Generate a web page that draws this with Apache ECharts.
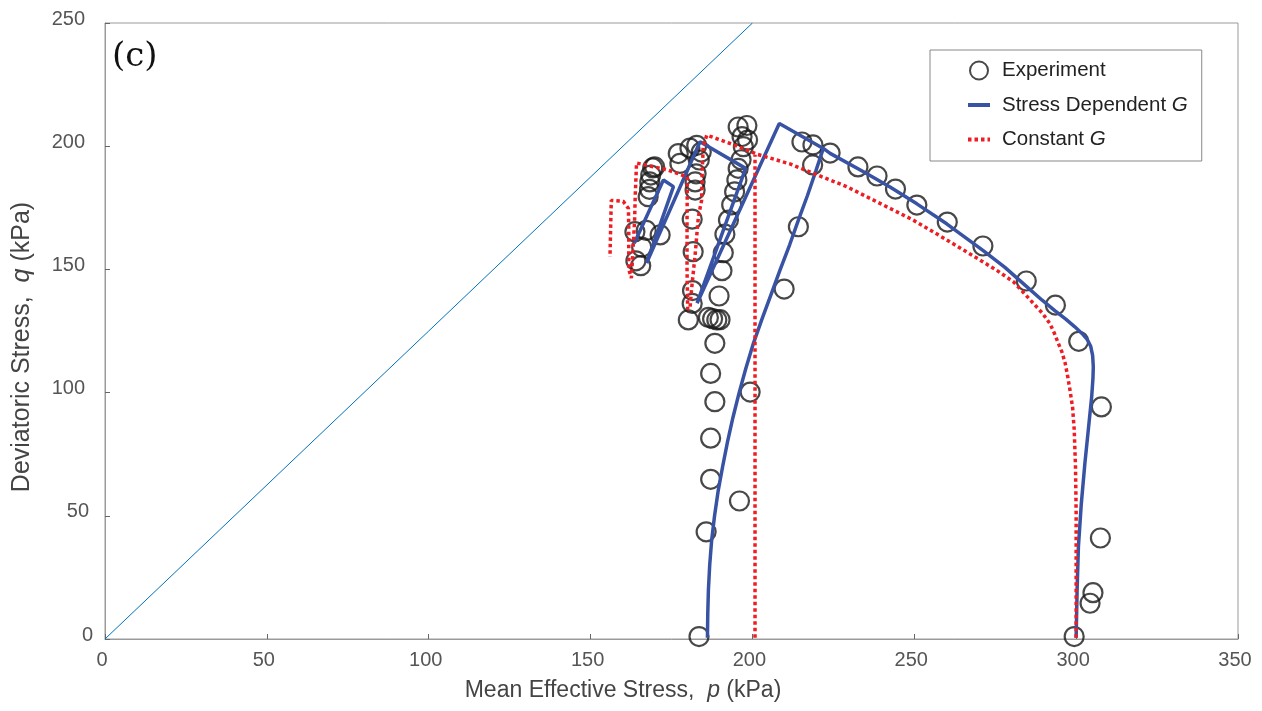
<!DOCTYPE html>
<html>
<head>
<meta charset="utf-8">
<script src="https://cdn.jsdelivr.net/npm/echarts@6/dist/echarts.min.js"></script>
<style>
html,body{margin:0;padding:0;background:#fff;}
#chart{width:1262px;height:711px;}
</style>
</head>
<body>
<div id="chart"></div>
<script>
// Tick values
var xTicks = [0, 50, 100, 150, 200, 250, 300, 350];
var yTicks = [0, 50, 100, 150, 200, 250];

// Experiment: [p (kPa), q (kPa)]
var experiment = [
  [299.4, 1], [304.3, 14.5], [305.2, 18.8], [307.5, 41], [307.8, 94.2], [300.8, 120.8],
  [293.6, 135.5], [284.6, 145.3], [271.2, 159.5], [260.2, 169.2], [250.8, 176.1], [244.2, 182.6],
  [238.5, 187.9], [232.6, 191.6], [224.0, 197.2], [218.7, 200.5], [215.3, 201.7], [218.6, 192.4],
  [214.2, 167.3], [209.8, 142], [199.3, 100.2], [196.0, 56],
  [183.5, 1], [185.7, 43.5], [187.1, 64.8], [187.1, 81.5], [188.4, 96.3], [187.1, 107.8], [188.4, 120],
  [180.2, 129.5], [186.4, 130.5], [187.7, 130], [189.0, 129.5], [190.0, 129.6], [189.7, 139.2],
  [190.6, 149.5], [191.0, 156.8], [191.5, 164.3], [192.6, 170], [193.6, 176.2], [194.5, 181.5],
  [195.2, 186.3], [195.6, 191], [196.5, 194.5], [197.2, 199.8], [196.8, 203.9], [195.6, 207.8],
  [198.3, 208.4], [198.5, 202.5],
  [181.5, 141.4], [181.4, 136.2], [181.7, 157.2], [181.4, 170.4], [182.3, 182.2], [182.3, 185.5],
  [182.6, 188.8], [183.6, 194.4], [182.8, 200.3], [180.7, 199.2], [177.1, 197], [177.6, 193],
  [184.2, 197.6],
  [164.0, 153.5], [165.5, 151.5], [165.8, 159], [163.7, 165.3], [167.2, 165.8], [171.5, 164],
  [167.8, 179.5], [168.2, 182.5], [168.3, 185.5], [168.6, 188.3], [169.2, 191.2], [169.8, 191.6]
];

// Stress Dependent G (model) - main path and second loading branch
var stressDepA = [
  [300.0, 0.5], [300.3, 20], [300.7, 37.4], [301.6, 55], [302.7, 71.3], [304.0, 88], [304.8, 98.3],
  [305.2, 106], [305.3, 110.5], [305.1, 115], [304.5, 118.8], [303.4, 121.6], [301.8, 124], [299.5, 126.8],
  [296.8, 129.8], [293.5, 133.2], [289.5, 137.5], [284.2, 143.6], [278, 150.8], [271.3, 157.6],
  [260.0, 168.5], [250.8, 176.6], [242.5, 183.4], [234.3, 189.6], [224.0, 197.1], [221.9, 199.1],
  [208.3, 209.2], [182.9, 136.3], [197.9, 191], [183.8, 201.8], [167.3, 152.6], [175.6, 183.6],
  [172.5, 186.3], [163.5, 160.6]
];
var stressDepB = [
  [186.1, 0.5], [186.2, 10], [186.4, 19.9], [186.8, 30], [187.4, 40], [188.3, 50], [189.4, 60],
  [190.8, 70], [192.3, 80], [194.0, 90], [195.9, 100], [198.0, 110], [200.3, 120], [203.0, 130],
  [205.8, 140], [208.6, 150], [211.5, 160], [214.2, 170], [217.0, 180], [219.6, 190], [221.9, 199.1]
];

// Constant G (model)
var constantA = [
  [300.0, 0.5], [300.0, 25], [300.0, 51], [299.8, 70], [299.4, 85], [298.9, 94], [298.1, 101],
  [297.4, 106.5], [296.6, 112], [295.6, 116.5], [294.5, 120], [293.3, 124], [291.9, 128],
  [289.6, 132.2], [286.8, 136.2], [283.8, 140.5], [280.6, 145], [275.5, 149.6], [270.3, 153.8],
  [260.0, 162], [249.7, 170], [239.4, 176.8], [229.1, 183.6], [218.8, 189], [211.6, 192.8],
  [201.3, 196.8], [197.2, 199], [193.1, 201.1], [185.9, 204.5],
  [184.8, 200], [184.5, 190], [184.3, 178], [183.3, 171.4],
  [182.3, 156], [181.2, 142], [180.7, 134], [180.0, 134], [179.8, 150], [179.8, 170], [179.9, 187.5],
  [174.0, 190.3], [167.3, 192.3], [164.2, 193.2], [163.8, 180], [163.6, 170], [163.0, 155],
  [162.6, 146.5], [161.8, 150], [161.8, 165], [161.7, 174.7], [160.1, 177.6], [156.4, 178],
  [156.2, 167], [156.0, 155]
];
var constantB = [[200.8, 0.5], [200.8, 100], [200.8, 196.5]];

// Reference line q = M p
var refLine = [[0, 0], [200, 250]];

var chart = echarts.init(document.getElementById('chart'), null, {renderer: 'canvas'});
var FONT = '"Liberation Sans", Arial, sans-serif';
var BLUE = '#3953A4';
var RED = '#EE1D23';
var TXT = '#444';
var TICK = '#555';

function richTxt(size, color) {
  return {
    n: {fontSize: size, color: color, fontFamily: FONT},
    i: {fontSize: size, color: color, fontFamily: FONT, fontStyle: 'italic'}
  };
}

chart.setOption({
  animation: false,
  backgroundColor: '#fff',
  grid: {left: 105, right: 24, top: 23, bottom: 72, show: true, borderColor: '#9a9a9a', borderWidth: 1, backgroundColor: 'transparent'},
  xAxis: {
    type: 'value', min: xTicks[0], max: xTicks[xTicks.length - 1], interval: 50,
    axisLine: {show: true, lineStyle: {color: '#9a9a9a', width: 1}},
    axisTick: {show: true, inside: true, length: 5, lineStyle: {color: '#666'}},
    axisLabel: {
      margin: 11,
      formatter: function (v) { return '{t|' + v + '}'; },
      rich: {t: {fontSize: 20, color: TICK, fontFamily: FONT, padding: [0, 6, 0, 0]}}
    },
    splitLine: {show: false}
  },
  yAxis: {
    type: 'value', min: yTicks[0], max: yTicks[yTicks.length - 1], interval: 50,
    axisLine: {show: true, lineStyle: {color: '#9a9a9a', width: 1}},
    axisTick: {show: true, inside: true, length: 5, lineStyle: {color: '#666'}},
    axisLabel: {
      margin: 12,
      formatter: function (v) { var s = String(v); return '{d' + s.length + '|' + s + '}'; },
      rich: {
        d1: {fontSize: 20, color: TICK, fontFamily: FONT, padding: [0, 0, 8, 0]},
        d2: {fontSize: 20, color: TICK, fontFamily: FONT, padding: [0, 4, 8, 0]},
        d3: {fontSize: 20, color: TICK, fontFamily: FONT, padding: [0, 8, 8, 0]}
      }
    },
    splitLine: {show: false}
  },
  legend: {
    orient: 'vertical', left: 930, top: 50,
    padding: [10, 14, 11, 36],
    itemWidth: 22, itemHeight: 18, itemGap: 13.5,
    borderColor: '#888', borderWidth: 1, backgroundColor: '#fff',
    data: [
      {name: 'Experiment'},
      {name: 'Stress Dependent G', itemStyle: {opacity: 0}, lineStyle: {width: 4}},
      {name: 'Constant G', itemStyle: {opacity: 0}, lineStyle: {width: 4}}
    ],
    formatter: function (name) {
      if (name === 'Stress Dependent G') return '{f|Stress Dependent }{i|G}';
      if (name === 'Constant G') return '{f|Constant }{i|G}';
      return '{f|' + name + '}';
    },
    textStyle: {fontSize: 20.5, color: '#222', fontFamily: FONT, lineHeight: 20, rich: {
      f: {fontSize: 20.5, color: '#222', fontFamily: FONT, lineHeight: 20, padding: [0, 0, 0, 7]},
      i: {fontSize: 20.5, color: '#222', fontFamily: FONT, fontStyle: 'italic', lineHeight: 20}
    }}
  },
  graphic: [
    {
      type: 'text', left: 112, top: 40, z: 100,
      style: {text: '(c)', font: '34px "DejaVu Serif", serif', fill: '#111'}
    },
    {
      type: 'text', x: 623, y: 691, z: 100,
      style: {
        text: '{n|Mean Effective Stress,  }{i|p}{n| (kPa)}',
        align: 'center', verticalAlign: 'middle',
        font: '23px "Liberation Sans", Arial, sans-serif', fill: TXT,
        rich: richTxt(23, TXT)
      }
    },
    {
      type: 'text', x: 22, y: 347, rotation: Math.PI / 2, z: 100,
      style: {
        text: '{n|Deviatoric Stress,  }{i|q}{n| (kPa)}',
        align: 'center', verticalAlign: 'middle',
        font: '25px "Liberation Sans", Arial, sans-serif', fill: TXT,
        rich: richTxt(25, TXT)
      }
    }
  ],
  series: [
    {
      name: 'CSL', type: 'line', data: refLine, symbol: 'none', silent: true,
      lineStyle: {color: '#0072BD', width: 1}, z: 1
    },
    {
      name: 'Experiment', type: 'scatter', data: experiment,
      symbol: 'circle', symbolSize: 19,
      itemStyle: {color: 'rgba(255,255,255,0)', borderColor: '#1a1a1a', borderWidth: 2.2}, z: 2
    },
    {
      name: 'Stress Dependent G', type: 'line', data: stressDepA, symbol: 'none',
      lineStyle: {color: BLUE, width: 3.5}, itemStyle: {color: BLUE}, z: 3
    },
    {
      name: 'Stress Dependent G', type: 'line', data: stressDepB, symbol: 'none',
      lineStyle: {color: BLUE, width: 3.5}, itemStyle: {color: BLUE}, z: 3
    },
    {
      name: 'Constant G', type: 'line', data: constantA, symbol: 'none',
      lineStyle: {color: RED, width: 3.5, type: [3.5, 3]}, itemStyle: {color: RED}, z: 4
    },
    {
      name: 'Constant G', type: 'line', data: constantB, symbol: 'none',
      lineStyle: {color: RED, width: 3.5, type: [3.5, 3]}, itemStyle: {color: RED}, z: 4
    }
  ]
});
</script>
</body>
</html>
